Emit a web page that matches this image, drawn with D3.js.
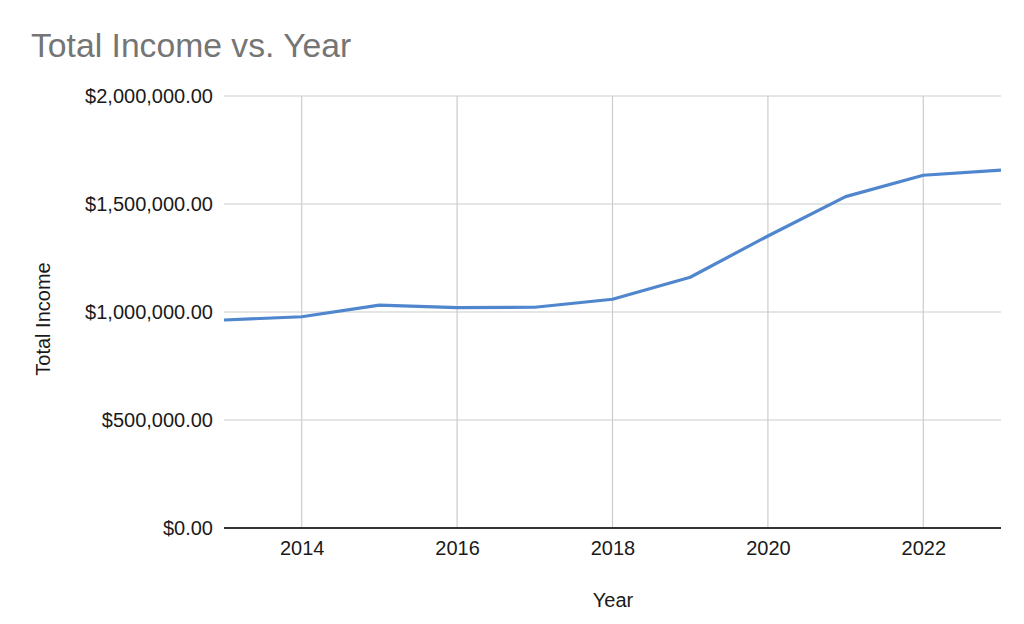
<!DOCTYPE html>
<html><head><meta charset="utf-8">
<script src="https://cdn.jsdelivr.net/npm/d3@7"></script>
<style>body{margin:0;background:#fff;}svg{display:block;font-family:"Liberation Sans",Arial,sans-serif;}</style>
</head><body>
<script>
const years = [2013,2014,2015,2016,2017,2018,2019,2020,2021,2022,2023];
const totalIncome = [963000,978000,1032000,1020000,1022000,1059000,1161000,1352000,1534000,1633000,1657000];
const xTicks = [2014,2016,2018,2020,2022];
const yTicks = [0,500000,1000000,1500000,2000000];
const title = "Total Income vs. Year";
const xTitle = "Year";
const yTitle = "Total Income";

const W=1024,H=624;
const svg=d3.select("body").append("svg").attr("width",W).attr("height",H);
const x=d3.scaleLinear().domain([2013,2023]).range([224,1001]);
const y=d3.scaleLinear().domain([0,2000000]).range([528,96]);
const fmt=d3.format("$,.2f");
const FF="Liberation Sans, Arial, sans-serif";

svg.append("text").attr("x",31).attr("y",57).attr("fill","#757575").attr("font-size",33.7).text(title);

// gridlines
svg.append("g").selectAll("line").data(yTicks.filter(d=>d>0)).join("line")
 .attr("x1",224).attr("x2",1001).attr("y1",d=>y(d)).attr("y2",d=>y(d)).attr("stroke","#cccccc").attr("stroke-width",1.2);
svg.append("g").selectAll("line").data(xTicks).join("line")
 .attr("x1",d=>x(d)).attr("x2",d=>x(d)).attr("y1",96).attr("y2",528).attr("stroke","#cccccc").attr("stroke-width",1.2);

// y axis labels
const ya=svg.append("g").attr("transform","translate(213,0)").call(d3.axisLeft(y).tickValues(yTicks).tickFormat(fmt).tickSize(0).tickPadding(0));
ya.select(".domain").remove();
ya.selectAll("text").attr("font-size",20).attr("fill","#1a1a1a").attr("font-family",FF).attr("dy","0.33em");

// x axis labels
const xa=svg.append("g").attr("transform","translate(0,541)").call(d3.axisBottom(x).tickValues(xTicks).tickFormat(d3.format("d")).tickSize(0).tickPadding(0));
xa.select(".domain").remove();
xa.selectAll("text").attr("font-size",20).attr("fill","#1a1a1a").attr("font-family",FF);

// baseline
svg.append("line").attr("x1",224).attr("x2",1001).attr("y1",y(0)).attr("y2",y(0)).attr("stroke","#333").attr("stroke-width",2);

// line
svg.append("path").datum(years.map((d,i)=>[d,totalIncome[i]]))
 .attr("d",d3.line().x(d=>x(d[0])).y(d=>y(d[1])))
 .attr("fill","none").attr("stroke","#4f86cd").attr("stroke-width",3.2).attr("stroke-linejoin","round");

svg.append("text").attr("x",613).attr("y",607).attr("text-anchor","middle").attr("font-size",20).attr("fill","#1a1a1a").text(xTitle);
svg.append("text").attr("transform","translate(50,319) rotate(-90)").attr("text-anchor","middle").attr("font-size",20).attr("fill","#1a1a1a").text(yTitle);
</script>
</body></html>
